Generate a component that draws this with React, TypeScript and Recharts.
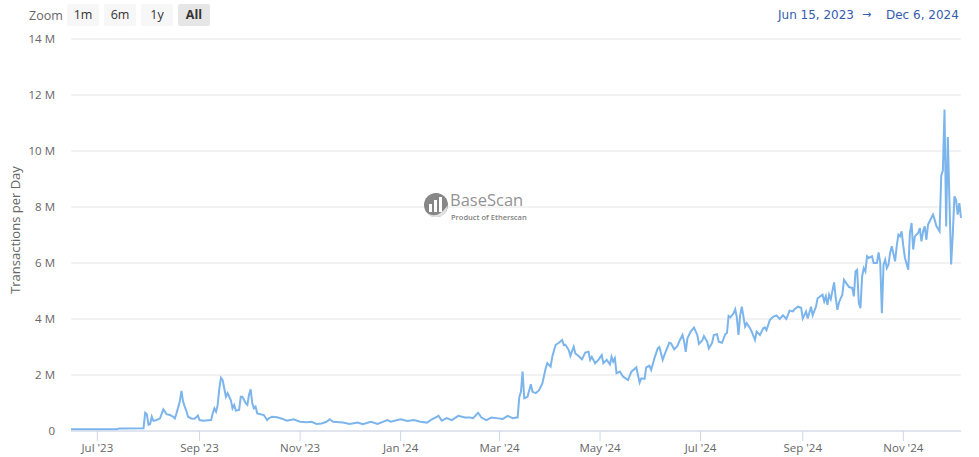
import { CartesianGrid, Line, LineChart, XAxis, YAxis } from "recharts"

// daily transactions on Base (millions)
const dates = [
  "2023-06-15",
  "2023-07-13", "2023-07-14", "2023-07-29", "2023-07-30", "2023-07-31",
  "2023-08-01", "2023-08-02", "2023-08-03", "2023-08-04", "2023-08-06", "2023-08-08", "2023-08-10", "2023-08-11", "2023-08-12", "2023-08-14", "2023-08-16", "2023-08-17", "2023-08-18", "2023-08-20", "2023-08-21", "2023-08-22", "2023-08-23", "2023-08-24", "2023-08-25", "2023-08-27", "2023-08-29", "2023-08-31",
  "2023-09-01", "2023-09-03", "2023-09-08", "2023-09-09", "2023-09-10", "2023-09-11", "2023-09-12", "2023-09-13", "2023-09-14", "2023-09-15", "2023-09-16", "2023-09-17", "2023-09-18", "2023-09-20", "2023-09-21", "2023-09-22", "2023-09-23", "2023-09-25", "2023-09-26", "2023-09-27", "2023-09-29", "2023-09-30",
  "2023-10-01", "2023-10-02", "2023-10-03", "2023-10-04", "2023-10-05", "2023-10-06", "2023-10-08", "2023-10-10", "2023-10-12", "2023-10-13", "2023-10-15", "2023-10-18", "2023-10-21", "2023-10-24", "2023-10-28",
  "2023-11-01", "2023-11-05", "2023-11-08", "2023-11-11", "2023-11-14", "2023-11-17", "2023-11-19", "2023-11-21", "2023-11-27",
  "2023-12-01", "2023-12-06", "2023-12-09", "2023-12-14", "2023-12-18", "2023-12-24", "2023-12-26",
  "2024-01-01", "2024-01-05", "2024-01-09", "2024-01-13", "2024-01-17", "2024-01-20", "2024-01-24", "2024-01-26", "2024-01-29",
  "2024-02-01", "2024-02-05", "2024-02-09", "2024-02-12", "2024-02-14", "2024-02-17", "2024-02-19", "2024-02-22", "2024-02-25", "2024-02-28",
  "2024-03-03", "2024-03-06", "2024-03-09", "2024-03-12", "2024-03-13", "2024-03-14", "2024-03-15", "2024-03-16", "2024-03-18", "2024-03-20", "2024-03-21", "2024-03-23", "2024-03-25", "2024-03-27", "2024-03-29", "2024-03-30",
  "2024-04-01", "2024-04-02", "2024-04-04", "2024-04-06", "2024-04-08", "2024-04-09", "2024-04-10", "2024-04-12", "2024-04-13", "2024-04-15", "2024-04-16", "2024-04-18", "2024-04-20", "2024-04-22", "2024-04-24", "2024-04-25", "2024-04-26", "2024-04-28", "2024-04-30",
  "2024-05-02", "2024-05-03", "2024-05-05", "2024-05-07", "2024-05-08", "2024-05-09", "2024-05-10", "2024-05-11", "2024-05-13", "2024-05-15", "2024-05-18", "2024-05-20", "2024-05-23", "2024-05-25", "2024-05-26", "2024-05-28", "2024-05-29", "2024-05-31",
  "2024-06-01", "2024-06-03", "2024-06-05", "2024-06-06", "2024-06-08", "2024-06-09", "2024-06-12", "2024-06-13", "2024-06-15", "2024-06-17", "2024-06-18", "2024-06-20", "2024-06-21", "2024-06-22", "2024-06-23", "2024-06-25", "2024-06-27", "2024-06-29", "2024-06-30",
  "2024-07-02", "2024-07-03", "2024-07-05", "2024-07-06", "2024-07-08", "2024-07-09", "2024-07-11", "2024-07-12", "2024-07-14", "2024-07-16", "2024-07-17", "2024-07-18", "2024-07-19", "2024-07-21", "2024-07-22", "2024-07-23", "2024-07-24", "2024-07-25", "2024-07-26", "2024-07-28", "2024-07-29", "2024-07-31",
  "2024-08-01", "2024-08-03", "2024-08-04", "2024-08-06", "2024-08-08", "2024-08-09", "2024-08-10", "2024-08-12", "2024-08-14", "2024-08-16", "2024-08-18", "2024-08-20", "2024-08-22", "2024-08-24", "2024-08-26", "2024-08-27", "2024-08-29", "2024-08-31",
  "2024-09-01", "2024-09-03", "2024-09-04", "2024-09-06", "2024-09-07", "2024-09-09", "2024-09-10", "2024-09-13", "2024-09-14", "2024-09-15", "2024-09-16", "2024-09-17", "2024-09-18", "2024-09-20", "2024-09-21", "2024-09-22", "2024-09-23", "2024-09-25", "2024-09-26", "2024-09-28", "2024-09-29",
  "2024-10-01", "2024-10-02", "2024-10-03", "2024-10-04", "2024-10-05", "2024-10-06", "2024-10-07", "2024-10-08", "2024-10-09", "2024-10-10", "2024-10-11", "2024-10-13", "2024-10-14", "2024-10-16", "2024-10-17", "2024-10-18", "2024-10-19", "2024-10-20", "2024-10-21", "2024-10-22", "2024-10-23", "2024-10-24", "2024-10-25", "2024-10-27", "2024-10-28", "2024-10-29", "2024-10-30", "2024-10-31",
  "2024-11-01", "2024-11-02", "2024-11-04", "2024-11-05", "2024-11-06", "2024-11-07", "2024-11-08", "2024-11-10", "2024-11-11", "2024-11-12", "2024-11-13", "2024-11-14", "2024-11-15", "2024-11-16", "2024-11-17", "2024-11-19", "2024-11-20", "2024-11-21", "2024-11-23", "2024-11-24", "2024-11-25", "2024-11-26", "2024-11-27", "2024-11-28", "2024-11-29", "2024-11-30",
  "2024-12-01", "2024-12-02", "2024-12-03", "2024-12-04", "2024-12-05", "2024-12-06",
]

const txPerDay = [
  0.06,
  0.06, 0.09, 0.1, 0.65, 0.6,
  0.22, 0.25, 0.51, 0.36, 0.39, 0.45, 0.77, 0.69, 0.6, 0.57, 0.51, 0.45, 0.63, 1.05, 1.43, 1.05, 0.87, 0.72, 0.51, 0.45, 0.44, 0.55,
  0.39, 0.37, 0.39, 0.63, 0.81, 0.69, 0.93, 1.52, 1.9, 1.82, 1.52, 1.22, 1.35, 1.1, 0.81, 0.93, 0.73, 0.75, 1.22, 1.22, 0.99, 0.93,
  1.29, 1.49, 0.99, 0.81, 0.87, 0.63, 0.6, 0.57, 0.39, 0.45, 0.51, 0.49, 0.44, 0.37, 0.42,
  0.33, 0.31, 0.33, 0.25, 0.27, 0.33, 0.42, 0.33, 0.3,
  0.25, 0.3, 0.24, 0.33, 0.25, 0.39, 0.33,
  0.42, 0.36, 0.39, 0.33, 0.3, 0.42, 0.54, 0.37, 0.46,
  0.39, 0.54, 0.48, 0.48, 0.46, 0.65, 0.48, 0.39, 0.48, 0.46,
  0.43, 0.54, 0.46, 0.49, 1.22, 1.4, 2.12, 1.17, 1.22, 1.67, 1.4, 1.35, 1.46, 1.7, 2.24, 2.42,
  2.3, 2.65, 3.07, 3.15, 3.25, 3.07, 3.08, 2.89, 2.68, 3.01, 2.77, 2.68, 2.56, 2.8, 2.83, 2.54, 2.65, 2.42, 2.54,
  2.71, 2.42, 2.54, 2.38, 2.65, 2.48, 2.6, 2.06, 2.12, 1.94, 1.82, 2.12, 2.27, 1.73, 1.88, 1.86, 2.27, 2.33,
  2.18, 2.6, 2.95, 3.0, 2.54, 2.71, 3.15, 3.13, 2.92, 3.04, 3.19, 3.43, 3.19, 2.83, 3.31, 3.55, 3.69, 3.43, 3.11,
  3.23, 3.39, 3.19, 2.95, 3.15, 3.43, 3.46, 3.19, 3.15, 3.46, 3.5, 4.11, 4.06, 4.2, 4.35, 4.06, 3.43, 4.13, 4.44, 3.73, 3.85, 3.67,
  3.55, 3.25, 3.55, 3.43, 3.67, 3.7, 3.6, 3.96, 4.08, 4.13, 4.0, 4.13, 4.0, 4.3, 4.27, 4.35, 4.44, 4.4,
  4.02, 4.27, 4.02, 4.44, 4.13, 4.44, 4.74, 4.87, 4.63, 4.81, 4.51, 4.87, 4.71, 5.31, 4.75, 4.33, 4.6, 4.87, 5.4, 5.23, 5.14,
  5.11, 4.81, 5.7, 5.76, 4.57, 4.39, 5.52, 5.82, 5.7, 6.24, 6.18, 6.24, 6.0, 6.0, 6.38, 6.0, 4.21, 5.94, 6.12, 5.82, 5.94, 6.36, 6.6, 6.06, 6.6, 7.01, 6.95, 7.13,
  6.6, 6.18, 5.76, 7.07, 7.43, 6.48, 6.95, 7.07, 7.25, 6.77, 7.13, 7.31, 6.83, 7.37, 7.49, 7.73, 7.55, 7.33, 7.13, 9.12, 9.3, 11.48, 7.3, 10.5, 8.2, 5.95,
  7.0, 8.38, 8.26, 7.73, 8.14, 7.61,
]

const tickDates = ["2023-07-01", "2023-09-01", "2023-11-01", "2024-01-01", "2024-03-01", "2024-05-01", "2024-07-01", "2024-09-01", "2024-11-01"]
const tickLabels = ["Jul '23", "Sep '23", "Nov '23", "Jan '24", "Mar '24", "May '24", "Jul '24", "Sep '24", "Nov '24"]
const yTicks = [0, 2, 4, 6, 8, 10, 12, 14]
const zoomButtons = ["1m", "6m", "1y", "All"]

const FONT = "'Open Sans', sans-serif"
const AXIS_TEXT = "#666666"
const LINE_COLOR = "#7cb5ec"

const toTime = (value: string) => Date.parse(`${value}T00:00:00Z`)

const formatRangeDate = (value: string) =>
  new Date(toTime(value)).toLocaleDateString("en-US", { month: "short", day: "numeric", year: "numeric", timeZone: "UTC" })

const data = dates.map((date, index) => ({ t: toTime(date), v: txPerDay[index] }))
const tickTimes = tickDates.map(toTime)

const formatXTick = (value: number) => {
  const index = tickTimes.indexOf(value)
  return index >= 0 ? tickLabels[index] : ""
}

const buttonLeft = [67, 104, 141, 178]

export default function App() {
  return (
    <div style={{ position: "absolute", left: 0, top: 0, width: 979, height: 457, background: "#fff", fontFamily: FONT }}>
      <LineChart width={979} height={457} data={data} margin={{ top: 39, right: 18, bottom: 0, left: 0 }}>
        <CartesianGrid vertical={false} stroke="#e6e6e6" />
        <XAxis
          dataKey="t"
          type="number"
          scale="time"
          domain={[toTime(dates[0]), toTime(dates[dates.length - 1])]}
          ticks={tickTimes}
          interval={0}
          tickFormatter={formatXTick}
          height={26}
          tickSize={10}
          tickMargin={3}
          axisLine={{ stroke: "#ccd6eb" }}
          tickLine={{ stroke: "#ccd6eb" }}
          tick={{ fill: AXIS_TEXT, fontSize: 11.5, fontFamily: FONT }}
        />
        <YAxis
          width={71}
          domain={[0, 14]}
          ticks={yTicks}
          interval={0}
          axisLine={false}
          tickLine={false}
          tickSize={0}
          tickMargin={16}
          tickFormatter={(value: number) => (value === 0 ? "0" : `${value} M`)}
          tick={{ fill: AXIS_TEXT, fontSize: 11.5, fontFamily: FONT }}
        />
        <Line
          type="linear"
          dataKey="v"
          stroke={LINE_COLOR}
          strokeWidth={2}
          dot={false}
          isAnimationActive={false}
        />
      </LineChart>

      <svg width={979} height={457} style={{ position: "absolute", left: 0, top: 0, pointerEvents: "none" }}>
        <text
          x={15}
          y={230}
          transform="rotate(-90 15 230)"
          textAnchor="middle"
          dominantBaseline="central"
          fill={AXIS_TEXT}
          fontSize={13}
          fontFamily={FONT}
        >
          Transactions per Day
        </text>

        {/* BaseScan watermark */}
        <g opacity={0.75}>
          <circle cx={436} cy={205} r={12} fill="#5f5f5f" />
          <path d="M 425 211 Q 436 222 448 205 Q 446 218 436 217 Q 428 217 425 211 Z" fill="#d9d9d9" />
          <rect x={429} y={204} width={3} height={8} fill="#fff" />
          <rect x={434} y={200} width={3} height={12} fill="#fff" />
          <rect x={439} y={197} width={3} height={15} fill="#fff" />
          <text x={450} y={206} fill="#6f6f6f" fontSize={16.5} fontFamily={FONT}>BaseScan</text>
          <text x={451} y={219.5} fill="#555" fontSize={7.5} fontWeight={600} fontFamily={FONT}>Product of Etherscan</text>
        </g>
      </svg>

      <div style={{ position: "absolute", left: 29, top: 7, fontSize: 12.5, color: AXIS_TEXT, lineHeight: "18px" }}>Zoom</div>
      {zoomButtons.map((label, index) => (
        <div
          key={label}
          style={{
            position: "absolute",
            left: buttonLeft[index],
            top: 4,
            width: 32,
            height: 22,
            lineHeight: "22px",
            textAlign: "center",
            fontSize: 12.5,
            color: "#333",
            fontWeight: label === "All" ? 700 : 400,
            background: label === "All" ? "#e6e6e6" : "#f7f7f7",
            borderRadius: 2,
          }}
        >
          {label}
        </div>
      ))}

      <div style={{ position: "absolute", left: 778, top: 6, fontSize: 12, color: "#335cad", lineHeight: "18px", fontFamily: "'DejaVu Sans', sans-serif" }}>
        {formatRangeDate(dates[0])}
      </div>
      <div style={{ position: "absolute", left: 862, top: 6, fontSize: 11, color: "#335cad", lineHeight: "18px", fontFamily: "'DejaVu Sans', sans-serif" }}>
        →
      </div>
      <div style={{ position: "absolute", left: 886, top: 6, fontSize: 12, color: "#335cad", lineHeight: "18px", fontFamily: "'DejaVu Sans', sans-serif" }}>
        {formatRangeDate(dates[dates.length - 1])}
      </div>
    </div>
  )
}
